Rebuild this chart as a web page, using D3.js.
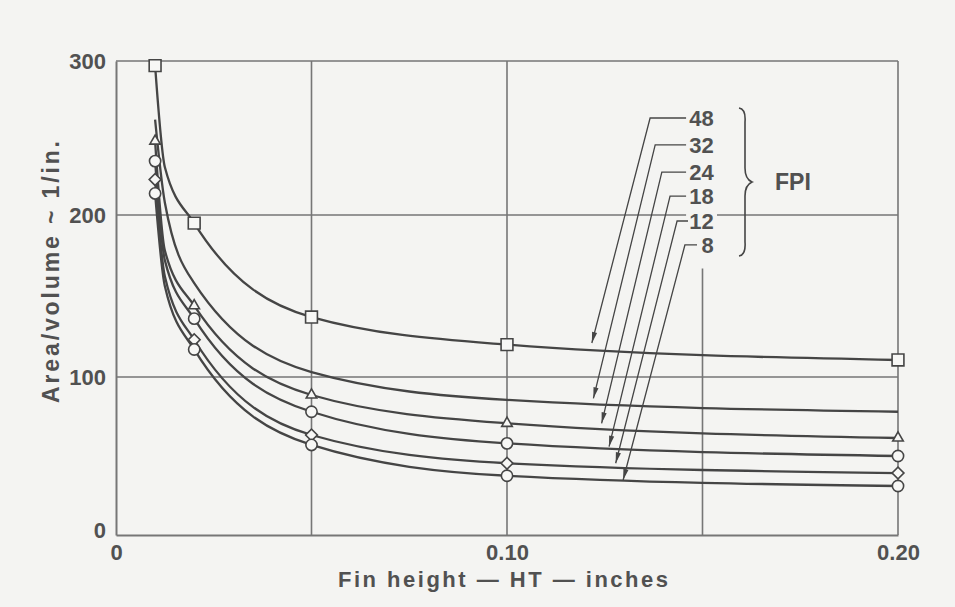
<!DOCTYPE html>
<html><head><meta charset="utf-8">
<script src="https://cdn.jsdelivr.net/npm/d3@7"></script>
<style>html,body{margin:0;padding:0;background:#f4f4f2;} svg{display:block;}</style>
</head><body><svg id="c" width="955" height="607"></svg>
<script>
// ---- data ----
const curveX  = [0.01, 0.0125, 0.02, 0.05, 0.10, 0.20];
const markerX = [0.01, 0.02, 0.05, 0.10, 0.20];
const fpiLabels = ["48", "32", "24", "18", "12", "8"];
const fpi48 = [297, 231, 195, 137, 120, 110.5];
const fpi32 = [262, 208, 158, 103, 85.5, 78];
const fpi24 = [248, 178, 144, 88.6, 70.7, 61.4];
const fpi18 = [235, 172, 136, 78, 58, 50];
const fpi12 = [223, 162, 123, 63.3, 45.4, 39.2];
const fpi8  = [214, 156, 117, 57, 37.5, 31];
const seriesValues = [fpi48, fpi32, fpi24, fpi18, fpi12, fpi8];
const seriesSymbols = ["square", null, "triangle", "circle", "diamond", "circle"];

const xTickValues = [0, 0.10, 0.20];
const xTickLabels = ["0", "0.10", "0.20"];
const yTickValues = [0, 100, 200, 300];
const yTickLabels = ["0", "100", "200", "300"];
const xGridValues = [0.05, 0.10, 0.15, 0.20];
const yGridValues = [100, 200, 300];

// leader annotations (data units)
const arrowTipX = [0.1217, 0.1221, 0.1242, 0.1261, 0.1278, 0.1297];
const arrowTipY = [121, 86.5, 70.7, 55.9, 45.4, 34.8];
const elbowX    = [0.1366, 0.1379, 0.1396, 0.1417, 0.1435, 0.1455];
const elbowY    = [263, 245.5, 227.9, 212.3, 196.3, 181.5];
const hookEndX  = [0.1458, 0.1458, 0.1458, 0.1458, 0.1463, 0.1486];
const labelRightX = 0.1529;

const xTitle = "Fin height \u2014 HT \u2014 inches";
const yTitle = "Area/volume ~ 1/in.";
const braceLabel = "FPI";

// ---- drawing ----
const svg = d3.select("#c");
const ink = "#454545", grid = "#767676", txt = "#515151";
const font = "'Liberation Sans', Arial, sans-serif";

const x = d3.scaleLinear().domain([0, 0.20]).range([116, 898]);
const y = d3.scaleLinear().domain([0, 100, 200, 300]).range([535, 377, 215, 61]);

svg.append("rect").attr("width", 955).attr("height", 607).attr("fill", "#f4f4f2");

const g = svg.append("g");
xGridValues.forEach(v => {
  const top = v === 0.15 ? 167 : 300;
  g.append("line").attr("x1", x(v)).attr("x2", x(v)).attr("y1", y(0)).attr("y2", y(top))
    .attr("stroke", grid).attr("stroke-width", 1.6);
});
yGridValues.forEach(v => {
  const segs = v === 200 ? [[0, 0.1458], [0.1537, 0.20]] : [[0, 0.20]];
  segs.forEach(s => g.append("line").attr("x1", x(s[0])).attr("x2", x(s[1]))
    .attr("y1", y(v)).attr("y2", y(v)).attr("stroke", grid).attr("stroke-width", 1.6));
});

const xAxis = d3.axisBottom(x).tickValues(xTickValues).tickFormat((d, i) => xTickLabels[i])
  .tickSize(0).tickPadding(9);
const yAxis = d3.axisLeft(y).tickValues(yTickValues).tickFormat((d, i) => yTickLabels[i])
  .tickSize(0).tickPadding(10);
const gx = svg.append("g").attr("transform", `translate(0,${y(0)})`).call(xAxis);
const gy = svg.append("g").attr("transform", `translate(${x(0)},0)`).call(yAxis);
[gx, gy].forEach(a => {
  a.select(".domain").attr("stroke", grid).attr("stroke-width", 2);
  a.selectAll("text").attr("fill", txt).attr("font-family", font)
    .attr("font-size", 22).attr("font-weight", "bold");
});
gy.selectAll(".tick text").filter(d => d === 0).attr("dy", "0.1em");

const line = d3.line().x(d => x(d[0])).y(d => y(d[1])).curve(d3.curveMonotoneX);
seriesValues.forEach(vals => {
  svg.append("path").datum(curveX.map((cx, i) => [cx, vals[i]]))
    .attr("d", line).attr("fill", "none").attr("stroke", ink).attr("stroke-width", 2.3);
});

const symMap = {
  square: d3.symbol().type(d3.symbolSquare).size(140),
  triangle: d3.symbol().type(d3.symbolTriangle).size(48),
  circle: d3.symbol().type(d3.symbolCircle).size(100),
  diamond: d3.symbol().type(d3.symbolSquare).size(70)
};
seriesValues.forEach((vals, si) => {
  const s = seriesSymbols[si];
  if (!s) return;
  markerX.forEach(mx => {
    const idx = curveX.indexOf(mx);
    svg.append("path").attr("d", symMap[s]())
      .attr("transform", `translate(${x(mx)},${y(vals[idx])})` + (s === "diamond" ? " rotate(45)" : ""))
      .attr("fill", "#f7f7f5").attr("stroke", ink).attr("stroke-width", 1.6);
  });
});

fpiLabels.forEach((lab, i) => {
  const tx = x(arrowTipX[i]), ty = y(arrowTipY[i]);
  const ex = x(elbowX[i]), ey = y(elbowY[i]);
  svg.append("path").attr("d", `M${tx},${ty}L${ex},${ey}L${x(hookEndX[i])},${ey}`)
    .attr("fill", "none").attr("stroke", ink).attr("stroke-width", 1.3);
  const ang = Math.atan2(ty - ey, tx - ex);
  const L = 11, W = 2.6;
  const bx = tx - L * Math.cos(ang), by = ty - L * Math.sin(ang);
  const px = -Math.sin(ang) * W, py = Math.cos(ang) * W;
  svg.append("path").attr("d", `M${tx},${ty}L${bx + px},${by + py}L${bx - px},${by - py}Z`)
    .attr("fill", ink);
  svg.append("text").attr("x", x(labelRightX)).attr("y", ey + 8)
    .attr("text-anchor", "end").attr("font-family", font).attr("font-size", 22)
    .attr("font-weight", "bold").attr("fill", txt).text(lab);
});

const bxp = 745;
svg.append("path").attr("d",
  `M${bxp - 6},${108} Q${bxp + 1},${109} ${bxp},${122} L${bxp},${168} Q${bxp},${179} ${bxp + 7},${182}` +
  ` Q${bxp},${185} ${bxp},${196} L${bxp},${242} Q${bxp + 1},${255} ${bxp - 6},${256}`)
  .attr("fill", "none").attr("stroke", ink).attr("stroke-width", 1.6);
svg.append("text").attr("x", 775).attr("y", 190).attr("font-family", font).attr("font-size", 23)
  .attr("font-weight", "bold").attr("fill", txt).text(braceLabel);

svg.append("text").attr("x", 338).attr("y", 587).attr("font-family", font).attr("font-size", 22)
  .attr("font-weight", "bold").attr("fill", txt).attr("textLength", 330)
  .attr("lengthAdjust", "spacing").text(xTitle);
svg.append("text").attr("transform", "translate(59,403) rotate(-90)")
  .attr("font-family", font).attr("font-size", 23)
  .attr("font-weight", "bold").attr("fill", txt).attr("textLength", 262)
  .attr("lengthAdjust", "spacing").text(yTitle);
</script></body></html>
